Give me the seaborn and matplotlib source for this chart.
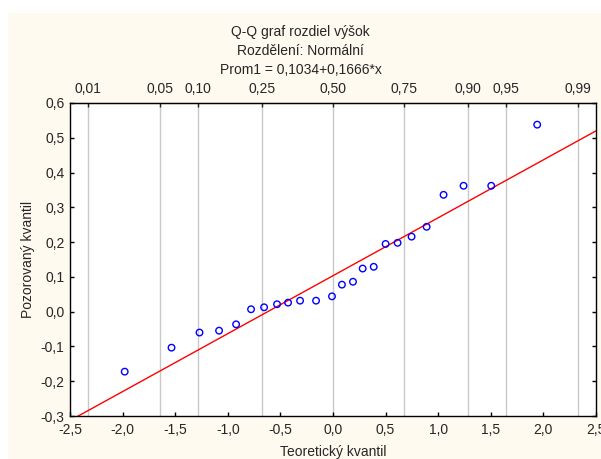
import matplotlib
matplotlib.use("Agg")
import matplotlib.pyplot as plt
import seaborn as sns
import pandas as pd
from statistics import NormalDist
from matplotlib.patches import Rectangle

# ---- data ----
theoretical = [-1.98, -1.535, -1.269, -1.083, -0.921, -0.779, -0.655, -0.532,
               -0.427, -0.313, -0.161, -0.0095, 0.085, 0.19, 0.282, 0.387,
               0.5, 0.614, 0.747, 0.89, 1.051, 1.241, 1.504, 1.941]
observed = [-0.1725, -0.1035, -0.060, -0.0546, -0.0364, 0.0069, 0.0126, 0.0213,
            0.026, 0.0316, 0.0316, 0.044, 0.0777, 0.086, 0.124, 0.129,
            0.1947, 0.198, 0.2157, 0.244, 0.336, 0.362, 0.362, 0.5377]
intercept = 0.1034
slope = 0.1666
probs = [0.01, 0.05, 0.10, 0.25, 0.50, 0.75, 0.90, 0.95, 0.99]
prob_labels = ["0,01", "0,05", "0,10", "0,25", "0,50", "0,75", "0,90", "0,95", "0,99"]
x_ticks = [-2.5, -2.0, -1.5, -1.0, -0.5, 0.0, 0.5, 1.0, 1.5, 2.0, 2.5]
y_ticks = [-0.3, -0.2, -0.1, 0.0, 0.1, 0.2, 0.3, 0.4, 0.5, 0.6]
title_lines = ["Q-Q graf rozdiel výšok", "Rozdělení: Normální", "Prom1 = 0,1034+0,1666*x"]

sns.set_style("white")
plt.rcParams['font.family'] = ['Liberation Sans', 'DejaVu Sans']
plt.rcParams['font.size'] = 10

W, H = 601, 459
fig = plt.figure(figsize=(W / 100, H / 100), dpi=100)
fig.patch.set_facecolor("white")
bg = Rectangle((8 / W, 0), 1, 1 - 13 / H, transform=fig.transFigure,
               facecolor="#FFFAF0", edgecolor="none", zorder=-10)
fig.patches.append(bg)

ax = fig.add_axes([70 / W, 1 - 416 / H, 526 / W, 313 / H])
ax.set_facecolor("white")

xlo, xhi = x_ticks[0], x_ticks[-1]
ylo, yhi = y_ticks[0], y_ticks[-1]

zq = [NormalDist().inv_cdf(p) for p in probs]
for z in zq:
    ax.axvline(z, color="#c8c8c8", lw=1.0, zorder=0)

line_df = pd.DataFrame({"x": [xlo, xhi], "y": [intercept + slope * xlo, intercept + slope * xhi]})
sns.lineplot(data=line_df, x="x", y="y", ax=ax, color="#ff0000", lw=1.0, zorder=2)

df = pd.DataFrame({"x": theoretical, "y": observed})
sns.scatterplot(data=df, x="x", y="y", ax=ax, s=22, facecolor="none",
                edgecolor="#0000ff", linewidth=1.0, zorder=3)

ax.set_xlim(xlo, xhi)
ax.set_ylim(ylo, yhi)
ax.set_xticks(x_ticks)
ax.set_xticklabels([f"{v:.1f}".replace(".", ",") for v in x_ticks])
ax.set_yticks(y_ticks)
ax.set_yticklabels([f"{v:.1f}".replace(".", ",").replace("-0,0", "0,0") for v in y_ticks])
ax.tick_params(axis="both", direction="in", length=3, width=1, color="black",
               labelsize=10, top=False, right=True, left=True, bottom=True)
ax.tick_params(axis="x", pad=5)
ax.tick_params(axis="y", pad=4)
ax.set_xlabel("Teoretický kvantil", fontsize=10, labelpad=6)
ax.set_ylabel("Pozorovaný kvantil", fontsize=10, labelpad=4)
for s in ax.spines.values():
    s.set_color("black")
    s.set_linewidth(1.0)

top = ax.secondary_xaxis("top")
top.set_xticks(zq)
top.set_xticklabels(prob_labels)
top.tick_params(direction="in", length=3, width=1, labelsize=10, pad=5)

for i, t in enumerate(title_lines):
    fig.text(0.5, 1 - (32 + 19 * i) / H, t, ha="center", va="center", fontsize=10)

fig.savefig("out.png", dpi=100, facecolor=fig.get_facecolor())
